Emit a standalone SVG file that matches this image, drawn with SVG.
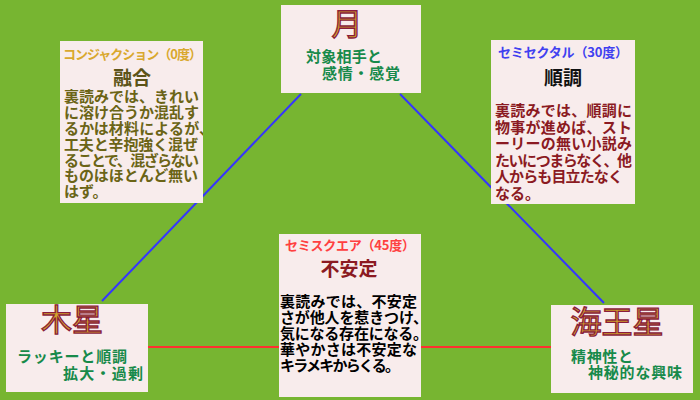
<svg xmlns="http://www.w3.org/2000/svg" width="700" height="400" viewBox="0 0 700 400">
<style>
text{font-family:"Noto Sans CJK JP","Noto Sans",sans-serif;}
.box{fill:#f8ecec;}
.planet{font-size:31px;fill:#d4a52a;stroke:#8a1c3c;stroke-width:1.3;text-anchor:middle;}
.sub{font-size:15px;font-weight:bold;fill:#178a4a;}
.ttl{font-size:13px;font-weight:bold;}
.head{font-size:19px;font-weight:bold;text-anchor:middle;}
.body{font-size:15px;font-weight:bold;}
</style>
<defs>
<clipPath id="cconj"><rect x="60" y="41" width="143" height="162"/></clipPath>
</defs>
<rect x="0" y="0" width="700" height="400" fill="#77b531"/>
<g id="connectors">
<line x1="102" y1="301" x2="301" y2="94" stroke="#3535ff" stroke-width="2"/>
<line x1="400" y1="94" x2="604" y2="303" stroke="#3535ff" stroke-width="2"/>
<line x1="148" y1="347" x2="551" y2="347" stroke="#ff3030" stroke-width="2"/>
</g>
<g id="moon">
<rect class="box" x="281" y="5" width="140" height="88"/>
<text class="planet" x="347" y="35">月</text>
<text class="sub" x="306" y="62" textLength="76">対象相手と</text>
<text class="sub" x="322" y="79" textLength="78">感情・感覚</text>
</g>
<g id="jupiter">
<rect class="box" x="6" y="304" width="142" height="88"/>
<text class="planet" x="72" y="331">木星</text>
<text class="sub" x="17" y="362" textLength="110">ラッキーと順調</text>
<text class="sub" x="63" y="379" textLength="80">拡大・過剰</text>
</g>
<g id="neptune">
<rect class="box" x="551" y="305" width="142" height="88"/>
<text class="planet" x="617" y="333">海王星</text>
<text class="sub" x="571" y="362" textLength="62">精神性と</text>
<text class="sub" x="588" y="378" textLength="94">神秘的な興味</text>
</g>
<g id="conjunction">
<rect class="box" x="60" y="41" width="143" height="162"/>
<text class="ttl" x="63" y="59" fill="#d9a82e" textLength="139">コンジャクション（0度）</text>
<text class="head" x="132" y="85" fill="#5c5418">融合</text>
<g clip-path="url(#cconj)" class="body" fill="#6b6416">
<text x="64" y="102" textLength="135">裏読みでは、きれい</text>
<text x="64" y="118" textLength="135">に溶け合うか混乱す</text>
<text x="64" y="134" textLength="150">るかは材料によるが、</text>
<text x="64" y="150" textLength="134">工夫と辛抱強く混ぜ</text>
<text x="64" y="166" textLength="135">ることで、混ざらない</text>
<text x="64" y="181" textLength="134">ものはほとんど無い</text>
<text x="64" y="197">はず。</text>
</g>
</g>
<g id="semisextile">
<rect class="box" x="491" y="40" width="144" height="164"/>
<text class="ttl" x="498" y="57" fill="#4040f0" textLength="130">セミセクタル（30度）</text>
<text class="head" x="563" y="85" fill="#111">順調</text>
<g class="body" fill="#8b1a22">
<text x="495" y="116" textLength="137">裏読みでは、順調に</text>
<text x="495" y="133" textLength="137">物事が進めば、スト</text>
<text x="495" y="149" textLength="137">ーリーの無い小説み</text>
<text x="495" y="166" textLength="137">たいにつまらなく、他</text>
<text x="495" y="182" textLength="128">人からも目立たなく</text>
<text x="495" y="199">なる。</text>
</g>
</g>
<g id="semisquare">
<rect class="box" x="279" y="234" width="142" height="163"/>
<text class="ttl" x="285" y="250" fill="#ff4040" textLength="130">セミスクエア（45度）</text>
<text class="head" x="349" y="276" fill="#8b1a22">不安定</text>
<g class="body" fill="#000">
<text x="280" y="307" textLength="137">裏読みでは、不安定</text>
<text x="280" y="323" textLength="148">さが他人を惹きつけ、</text>
<text x="280" y="339" textLength="148">気になる存在になる。</text>
<text x="280" y="355" textLength="137">華やかさは不安定な</text>
<text x="280" y="371" textLength="120">キラメキからくる。</text>
</g>
</g>
</svg>
